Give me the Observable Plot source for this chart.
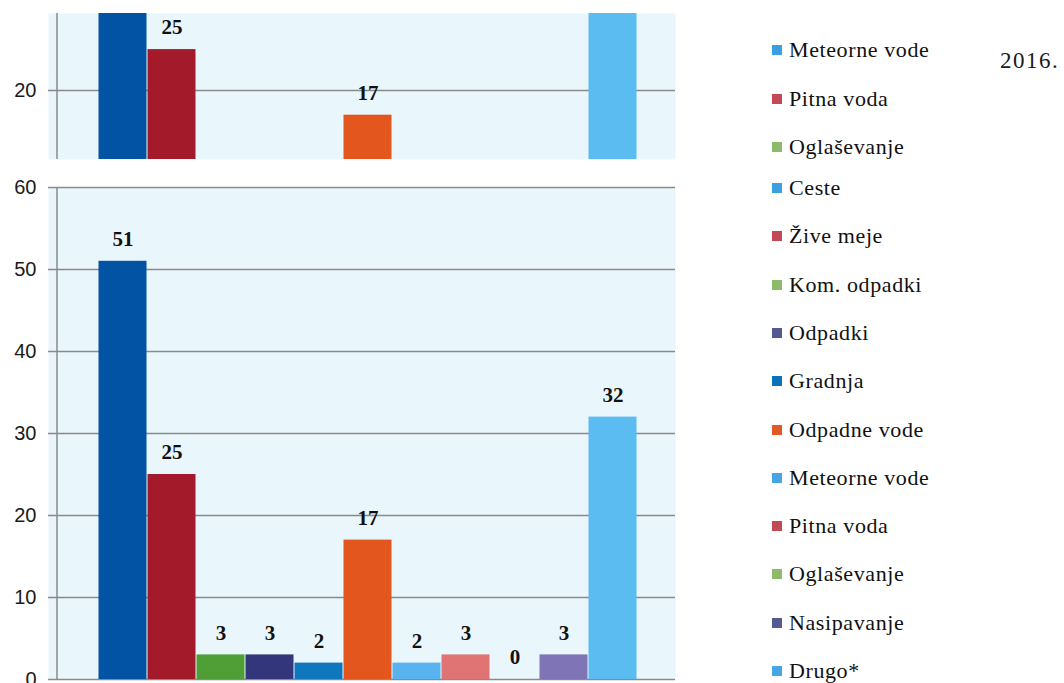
<!DOCTYPE html>
<html><head><meta charset="utf-8">
<script src="https://cdn.jsdelivr.net/npm/d3@7"></script>
<script src="https://cdn.jsdelivr.net/npm/@observablehq/plot@0.6"></script>
<style>
body{margin:0;background:#fff;width:1064px;height:683px;overflow:hidden;position:relative}
#top{position:absolute;left:0;top:0}
#main{position:absolute;left:0;top:170px}
.item{position:absolute;left:772px;display:flex;align-items:center;font-family:"Liberation Serif","Times New Roman",serif;font-size:22px;color:#111;letter-spacing:0.6px;line-height:1;white-space:nowrap}
.sw{width:10px;height:10px;margin-right:7px;flex:none}
#year{position:absolute;left:1000px;top:48px;font-family:"Liberation Serif","Times New Roman",serif;font-size:23px;letter-spacing:1.5px;color:#1a1a1a}
</style></head><body>
<div id="top"></div><div id="main"></div><div id="legend"></div><div id="year">2016.</div>
<script>
// bar categories (main chart), values and colours
const categories = ["Ceste","Žive meje","Kom. odpadki","Odpadki","Gradnja","Odpadne vode","Meteorne vode","Pitna voda","Oglaševanje","Nasipavanje","Drugo*"];
const values = [51, 25, 3, 3, 2, 17, 2, 3, 0, 3, 32];
const barColors = ["#0353a4","#a31b2b","#4f9e36","#33367a","#0f77bd","#e3571f","#58b3ee","#e07373","#8cc063","#7f74b5","#5bbcf2"];
// y-axis tick values
const mainTicks = [0, 10, 20, 30, 40, 50, 60];
const topTicks = [20];
// legend entries (first three belong to the chart cropped above)
const legendLabels = ["Meteorne vode","Pitna voda","Oglaševanje","Ceste","Žive meje","Kom. odpadki","Odpadki","Gradnja","Odpadne vode","Meteorne vode","Pitna voda","Oglaševanje","Nasipavanje","Drugo*"];
const legendColors = ["#3a9fe0","#c34a55","#8dbb6a","#3aa0e0","#c34a55","#8dbb6a","#555a90","#0a72b8","#e05a25","#45a5e5","#c34a55","#8dbb6a","#555a90","#45a5e5"];

const data = categories.map((c, i) => ({cat: c, value: values[i], color: barColors[i]}));

const axisLine = (index, scales, vals, dims) => {
  const x = dims.marginLeft + 9;
  return d3.create("svg:line")
    .attr("x1", x).attr("x2", x)
    .attr("y1", dims.marginTop).attr("y2", dims.height - dims.marginBottom)
    .attr("stroke", "#8a8a8a").attr("stroke-width", 1.5).node();
};

function chart({domain, height, marginTop, marginBottom, ticks}) {
  return Plot.plot({
    width: 700, height, marginLeft: 48, marginRight: 25, marginTop, marginBottom,
    style: {background: "transparent", fontFamily: "Liberation Sans", fontSize: "20px", color: "#1a1a1a", overflow: "visible"},
    x: {domain: categories, range: [95, 639], padding: 0, axis: null},
    y: {domain, ticks, tickSize: 0, tickPadding: 12, label: null},
    color: {type: "identity"},
    marks: [
      Plot.frame({fill: "#e9f6fb", stroke: null}),
      Plot.ruleY(ticks, {stroke: "#8a8a8a", strokeWidth: 1.5}),
      axisLine,
      Plot.barY(data, {x: "cat", y: "value", fill: "color", insetLeft: 0.5, insetRight: 0.5, clip: true}),
      Plot.text(data.filter(d => d.value >= domain[0] && d.value < domain[1]), {x: "cat", y: "value", text: d => String(d.value), dy: -22,
        fontFamily: "Liberation Serif", fontWeight: "bold", fontSize: 21, fill: "#111"})
    ]
  });
}

document.getElementById("top").append(chart({domain: [11.6, 29.4], height: 170, marginTop: 13, marginBottom: 11, ticks: topTicks}));
document.getElementById("main").append(chart({domain: [0, 60], height: 513, marginTop: 17, marginBottom: 4, ticks: mainTicks}));

const legend = document.getElementById("legend");
legendLabels.forEach((lab, i) => {
  const cy = i < 3 ? 50 + 48.5 * i : 188 + 48.3 * (i - 3);
  const el = document.createElement("div");
  el.className = "item";
  el.style.top = (cy - 11) + "px";
  el.style.height = "22px";
  el.innerHTML = `<span class="sw" style="background:${legendColors[i]}"></span><span>${lab}</span>`;
  legend.append(el);
});
</script>
</body></html>
